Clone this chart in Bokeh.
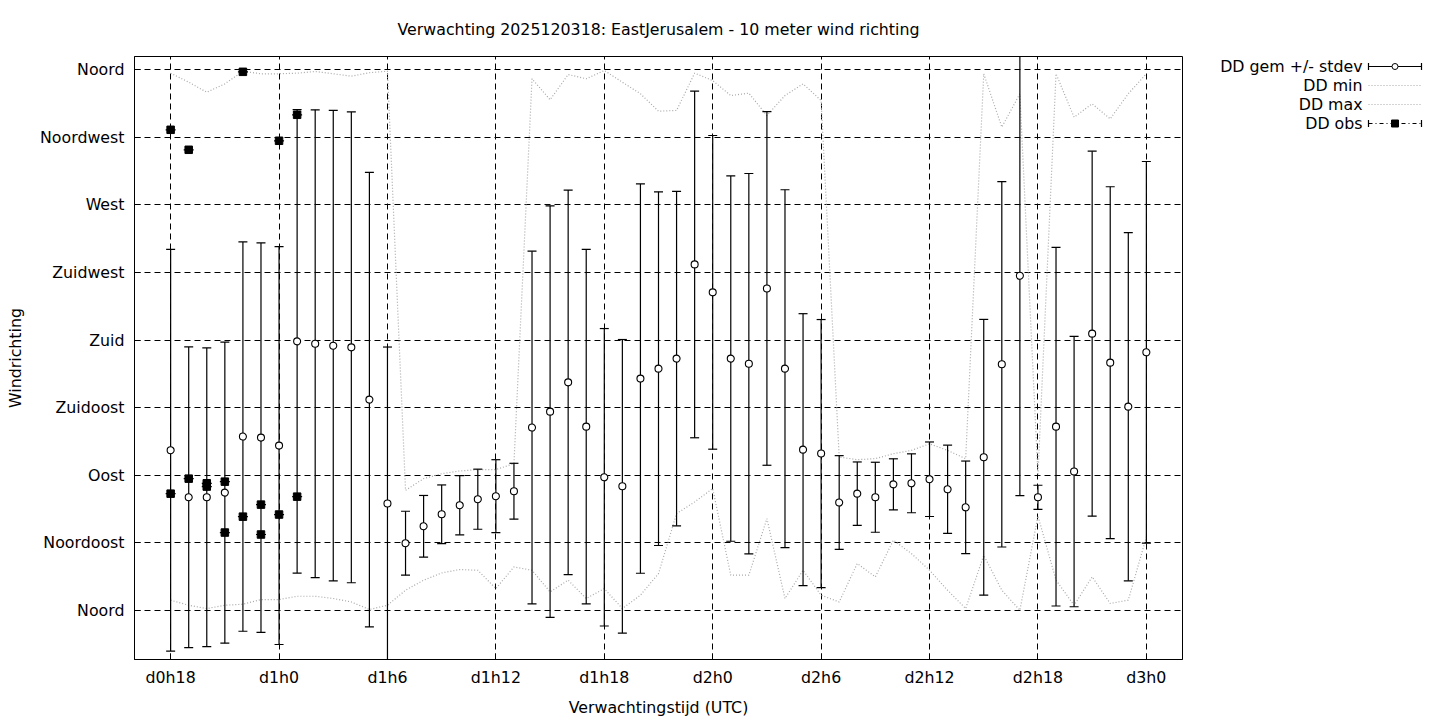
from bokeh.plotting import figure
from bokeh.models import Range1d, FixedTicker, ColumnDataSource
from bokeh.layouts import row
from bokeh.embed import file_html
from bokeh.resources import INLINE
from bokeh.core.properties import value

# ---------------- data ----------------
hours = [18, 19, 20, 21, 22, 23, 24, 25, 26, 27, 28, 29, 30, 31, 32, 33, 34, 35,
         36, 37, 38, 39, 40, 41, 42, 43, 44, 45, 46, 47, 48, 49, 50, 51, 52, 53,
         54, 55, 56, 57, 58, 59, 60, 61, 62, 63, 64, 65, 66, 67, 68, 69, 70, 71, 72]

dd_mean = [106.7, 75.4, 75.4, 78.5, 115.8, 115.1, 109.8, 179.2, 177.6, 176.3, 175.2,
           140.4, 71.2, 44.8, 56.1, 64.1, 70.1, 74.1, 76.1, 79.4, 121.8, 132.4, 151.9,
           122.4, 88.7, 82.7, 154.4, 161.0, 167.7, 230.4, 211.8, 167.7, 164.3, 214.4,
           161.0, 107.1, 104.5, 71.9, 77.8, 75.4, 84.0, 84.7, 87.4, 80.7, 68.7, 102.0,
           163.9, 222.9, 75.4, 122.4, 92.5, 184.3, 165.0, 135.7, 171.9]

dd_std = [133.7, 100.1, 99.4, 100.2, 129.6, 129.6, 132.4, 154.3, 155.7, 156.6, 156.7,
          151.3, 104.2, 21.3, 20.5, 19.5, 19.7, 20.0, 24.3, 18.6, 117.4, 137.0, 128.0,
          118.0, 99.0, 97.7, 129.6, 117.7, 111.3, 115.4, 104.4, 121.6, 126.6, 117.7,
          119.1, 90.5, 89.2, 31.2, 21.1, 23.3, 17.0, 19.6, 24.8, 29.4, 30.8, 91.8,
          121.6, 146.4, 8.0, 119.4, 90.0, 121.5, 117.1, 115.9, 127.0]

dd_min = [6.9, 3.5, 1.3, 3.5, 4.2, 7.3, 7.3, 9.5, 9.5, 8.0, 5.7, 0.7, 3.5, 13.5, 20.2,
          25.0, 27.3, 26.8, 14.6, 29.0, 26.8, 12.4, 20.2, 8.0, 14.6, 1.3, 10.2, 24.6,
          64.5, 72.3, 81.2, 23.5, 23.5, 61.2, 8.0, 26.8, 10.2, 5.7, 31.3, 22.4, 46.8,
          37.9, 26.8, 13.5, 1.3, 36.8, 13.5, 0.2, 63.0, 20.2, 3.5, 22.4, 4.7, 6.9, 49.0]

dd_max = [357.7, 351.7, 345.0, 350.6, 359.0, 357.3, 357.3, 357.7, 358.8, 357.3, 355.7,
          358.0, 359.0, 80.0, 87.8, 91.1, 92.9, 93.8, 93.8, 97.8, 354.0, 340.0, 356.8,
          354.0, 359.5, 351.7, 344.0, 332.4, 332.9, 357.7, 352.8, 342.8, 344.4, 329.5,
          342.8, 350.6, 339.5, 102.2, 100.4, 101.1, 104.4, 106.6, 111.0, 106.6, 101.1,
          357.3, 321.8, 344.0, 90.0, 357.3, 328.4, 337.3, 327.3, 344.0, 357.3]

obs_hours = [18, 18, 19, 19, 20, 20, 21, 21, 22, 22, 23, 23, 24, 24, 25, 25]
obs_dd = [77.8, 320.0, 87.8, 306.7, 84.7, 82.5, 85.8, 51.9, 62.5, 358.6, 70.5, 50.6,
          63.9, 312.7, 75.8, 330.0]

x_tick_hours = [18, 24, 30, 36, 42, 48, 54, 60, 66, 72]
x_tick_labels = ["d0h18", "d1h0", "d1h6", "d1h12", "d1h18", "d2h0", "d2h6",
                 "d2h12", "d2h18", "d3h0"]
y_tick_degrees = [0, 45, 90, 135, 180, 225, 270, 315, 360]
y_tick_labels = ["Noord", "Noordoost", "Oost", "Zuidoost", "Zuid", "Zuidwest",
                 "West", "Noordwest", "Noord"]

legend_labels = ["DD gem +/- stdev", "DD min", "DD max", "DD obs"]

title_text = "Verwachting 2025120318: EastJerusalem - 10 meter wind richting"
x_label = "Verwachtingstijd (UTC)"
y_label = "Windrichting"

# ---------------- styling ----------------
FONT = "DejaVu Sans"
FS = "15.8px"
GRAY = "#a8a8a8"

FRAME_W, FRAME_H = 1048, 603
B_LEFT, B_RIGHT, B_TOP, B_BOTTOM = 134, 12, 56, 60
MAIN_W = B_LEFT + FRAME_W + B_RIGHT

src = ColumnDataSource(dict(
    h=hours,
    mean=dd_mean,
    lo=[m - s for m, s in zip(dd_mean, dd_std)],
    hi=[m + s for m, s in zip(dd_mean, dd_std)],
))

p = figure(frame_width=FRAME_W, frame_height=FRAME_H,
           x_range=Range1d(16, 74), y_range=Range1d(-32.6, 368.8),
           output_backend="svg", toolbar_location=None,
           min_border_left=B_LEFT, min_border_right=B_RIGHT,
           min_border_top=B_TOP, min_border_bottom=B_BOTTOM,
           title=title_text)
p.background_fill_color = "white"
p.border_fill_color = "white"
p.outline_line_color = "black"
p.outline_line_width = 1

p.title.align = "center"
p.title.text_font = FONT
p.title.text_font_size = FS
p.title.text_font_style = "normal"
p.title.text_color = "black"
p.title.standoff = 35

p.xaxis.ticker = FixedTicker(ticks=x_tick_hours)
p.xaxis.major_label_overrides = {h: l for h, l in zip(x_tick_hours, x_tick_labels)}
p.yaxis.ticker = FixedTicker(ticks=y_tick_degrees)
p.yaxis.major_label_overrides = {d: l for d, l in zip(y_tick_degrees, y_tick_labels)}

for ax in (p.xaxis, p.yaxis):
    ax.major_tick_in = 6
    ax.major_tick_out = 0
    ax.minor_tick_line_color = None
    ax.axis_line_color = "black"
    ax.major_tick_line_color = "black"
    ax.major_label_text_font = FONT
    ax.major_label_text_font_size = FS
    ax.major_label_text_color = "black"
    ax.axis_label_text_font = FONT
    ax.axis_label_text_font_size = FS
    ax.axis_label_text_font_style = "normal"
    ax.axis_label_text_color = "black"
p.xaxis.major_label_standoff = 8
p.xaxis.axis_label_standoff = 8
p.yaxis.major_label_standoff = 10
p.yaxis.axis_label_standoff = 12
p.xaxis.axis_label = x_label
p.yaxis.axis_label = y_label

p.grid.grid_line_color = "black"
p.grid.grid_line_dash = "6 4"
p.grid.grid_line_width = 1

# min / max dotted lines
p.line(hours, dd_min, line_color=GRAY, line_dash="1 2", line_width=1.2)
p.line(hours, dd_max, line_color=GRAY, line_dash="1 2", line_width=1.2)

# error bars
p.segment(x0="h", y0="lo", x1="h", y1="hi", source=src, line_color="black", line_width=1.2)
p.scatter("h", "lo", source=src, marker="dash", size=9, line_color="black", line_width=1.2)
p.scatter("h", "hi", source=src, marker="dash", size=9, line_color="black", line_width=1.2)
p.scatter("h", "mean", source=src, marker="circle", size=7,
          fill_color="white", line_color="black", line_width=1.1)

# observations
p.scatter(obs_hours, obs_dd, marker="dash", size=10, line_color="black", line_width=1.2)
p.scatter(obs_hours, obs_dd, marker="square", size=7.5,
          fill_color="black", line_color="black")

# ---------------- legend (gnuplot style, text left of sample) ----------------
# Separate figure whose frame is aligned with the main frame; its y range is
# set so that one unit equals one page pixel (top of page = 0).
LG_W = 230
lg = figure(frame_width=LG_W, frame_height=FRAME_H,
            x_range=Range1d(MAIN_W, MAIN_W + LG_W),
            y_range=Range1d(B_TOP + FRAME_H, B_TOP), output_backend="svg",
            toolbar_location=None, min_border_left=0, min_border_right=0,
            min_border_top=B_TOP, min_border_bottom=B_BOTTOM,
            x_axis_type=None, y_axis_type=None)
lg.outline_line_color = None
lg.background_fill_color = "white"
lg.border_fill_color = "white"
lg.grid.visible = False

rows_y = [66, 85, 104, 123]
tx = 1362
sx0, sx1 = 1368, 1421
sxm = (sx0 + sx1) / 2
lg.text(x=[tx] * 4, y=rows_y, text=legend_labels, text_align="right",
        text_baseline="middle", text_font=value(FONT), text_font_size=value(FS),
        text_color="black")
# gem +/- stdev
y0 = rows_y[0]
lg.segment(x0=[sx0], y0=[y0], x1=[sx1], y1=[y0], line_color="black", line_width=1.2)
lg.segment(x0=[sx0, sx1], y0=[y0 - 3.5, y0 - 3.5], x1=[sx0, sx1], y1=[y0 + 3.5, y0 + 3.5],
           line_color="black", line_width=1.2)
lg.scatter([sxm], [y0], marker="circle", size=6, fill_color="white", line_color="black")
# min / max
for yy in (rows_y[1], rows_y[2]):
    lg.segment(x0=[sx0], y0=[yy], x1=[sx1], y1=[yy], line_color=GRAY,
               line_dash="1 2", line_width=1.2)
# obs
y3 = rows_y[3]
lg.segment(x0=[sx0], y0=[y3], x1=[sx1], y1=[y3], line_color="black",
           line_dash="4 3 1 3", line_width=1.2)
lg.segment(x0=[sx0, sx1], y0=[y3 - 3.5, y3 - 3.5], x1=[sx0, sx1], y1=[y3 + 3.5, y3 + 3.5],
           line_color="black", line_width=1.2)
lg.scatter([sxm], [y3], marker="square", size=7, fill_color="black", line_color="black")

layout = row(p, lg)
open("out.html", "w").write(file_html(layout, INLINE))
